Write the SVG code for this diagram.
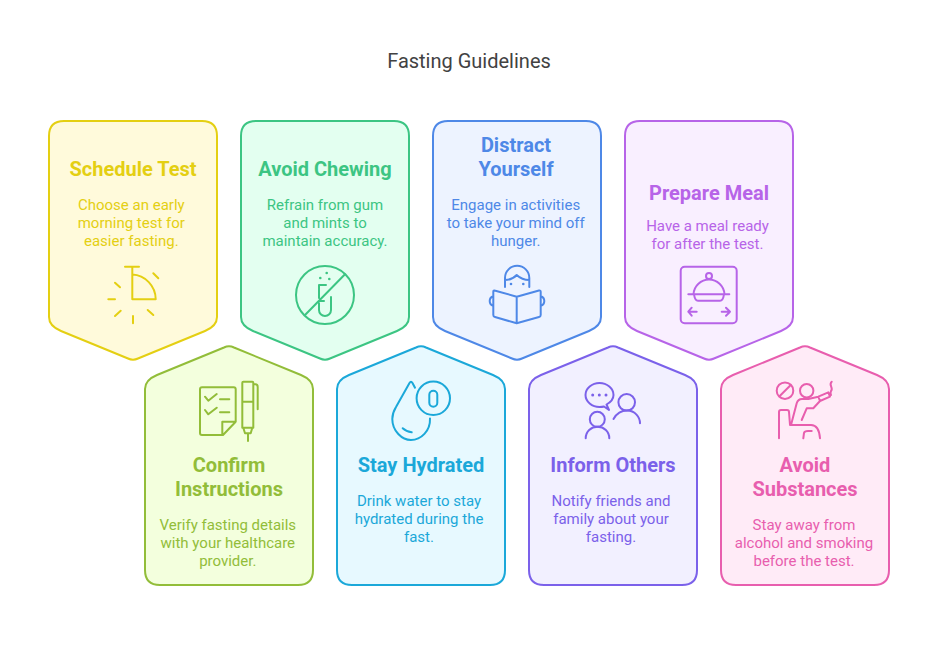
<svg xmlns="http://www.w3.org/2000/svg" width="938" height="658" viewBox="0 0 938 658">
<style>
text{font-family:Roboto,"Liberation Sans",sans-serif;text-anchor:middle}
.title{font-size:20px;fill:#424242}
.h{font-size:20px;font-weight:700}
.b{font-size:15px}
.card{stroke-width:2}
.i{fill:none;stroke-width:2;stroke-linecap:round;stroke-linejoin:round}
.y{fill:#e4cf12;stroke:#e4cf12}.y.card{fill:#fffadb}
.g{fill:#3cc583;stroke:#3cc583}.g.card{fill:#e3fff0}
.bl{fill:#4e88e7;stroke:#4e88e7}.bl.card{fill:#edf3ff}
.p{fill:#b764e8;stroke:#b764e8}.p.card{fill:#f9efff}
.l{fill:#92bd39;stroke:#92bd39}.l.card{fill:#f3ffdd}
.c{fill:#1ba8d9;stroke:#1ba8d9}.c.card{fill:#e7f9ff}
.v{fill:#7b61ea;stroke:#7b61ea}.v.card{fill:#f2f0ff}
.k{fill:#e85eae;stroke:#e85eae}.k.card{fill:#ffebf7}
text.y,text.g,text.bl,text.p,text.l,text.c,text.v,text.k{stroke:none}
.i.y,.i.g,.i.bl,.i.p,.i.l,.i.c,.i.v,.i.k{fill:none}
.d{stroke:none!important}
</style>
<defs>
<path id="down" d="M15 0H153Q168 0 168 15V196Q168 205 156 210L89 237.500Q84 240 79 237.500L12 210Q0 205 0 196V15Q0 0 15 0Z"/>
<path id="up" d="M79 1.500Q84 -1 89 1.500L156 29Q168 34 168 43V224Q168 239 153 239H15Q0 239 0 224V43Q0 34 12 29Z"/>
</defs>
<text class="title" x="469" y="67.500">Fasting Guidelines</text>
<g id="connectors"/>

<g id="schedule-test">
<use href="#down" x="49" y="121" class="card y"/>
<text class="h y" x="133" y="176">Schedule Test</text>
<text class="b y" x="131.300" y="210">Choose an early</text>
<text class="b y" x="131.300" y="228">morning test for</text>
<text class="b y" x="131.300" y="246">easier fasting.</text>
<path class="i y" d="M125 266.700H139M132.300 266.700V299.300H155.700C155.700 286 145 275 132.300 274.500M153.300 273.300L158.300 278.300M115 282.700L120 287.300M108.300 299.300H115M115 316L120.700 310.700M133 316V323.300M147.700 310L153.300 315"/>
</g>

<g id="avoid-chewing">
<use href="#down" x="241" y="121" class="card g"/>
<text class="h g" x="325" y="176">Avoid Chewing</text>
<text class="b g" x="325" y="210">Refrain from gum</text>
<text class="b g" x="325" y="228">and mints to</text>
<text class="b g" x="325" y="246">maintain accuracy.</text>
<circle class="i g" cx="325" cy="295" r="29"/>
<path class="i g" d="M345 274.300L305 315M319 298V285H326M319 301H324M319 303V310A6 6 0 0 0 331 310V297"/>
<circle class="g d" cx="320.300" cy="278" r="1.300"/><circle class="g d" cx="326.700" cy="273" r="1.300"/><circle class="g d" cx="329.300" cy="279" r="1.300"/>
</g>

<g id="distract-yourself">
<use href="#down" x="433" y="121" class="card bl"/>
<text class="h bl" x="516" y="152">Distract</text>
<text class="h bl" x="516" y="176">Yourself</text>
<text class="b bl" x="515.700" y="210">Engage in activities</text>
<text class="b bl" x="515.700" y="228">to take your mind off</text>
<text class="b bl" x="515.700" y="246">hunger.</text>
<path class="i bl" d="M505 287V278A12 12 0 0 1 529.300 278V287M505 280Q512 280 516.700 275Q522 280 529.300 280M516.700 296.700L494.500 290.500Q493.300 290 493.300 292V315Q493.300 316.700 495 317L516.700 323.300L539 317Q540.700 316.700 540.700 315V292Q540.700 290 539 290.500ZM516.700 296.700V323.300M493.300 296.200A5 5 0 0 0 493.300 305.800M540.700 296.200A5 5 0 0 1 540.700 305.800"/>
<circle class="bl d" cx="511" cy="284" r="1.300"/><circle class="bl d" cx="523.300" cy="284" r="1.300"/>
</g>

<g id="prepare-meal">
<use href="#down" x="625" y="121" class="card p"/>
<text class="h p" x="709" y="200">Prepare Meal</text>
<text class="b p" x="707.500" y="231">Have a meal ready</text>
<text class="b p" x="707.500" y="249">for after the test.</text>
<rect class="i p" x="680.700" y="266.700" width="56" height="56.600" rx="4"/>
<circle class="i p" cx="709" cy="276" r="3"/>
<path class="i p" d="M693.500 294.300C694 286 701 279.500 709 279.500C717 279.500 724 286 724.500 294.300M688.300 294.300H729.300M694 294.300Q695 300.700 698 300.700H720Q723 300.700 724 294.300M688.300 311.700H696.700M691.700 307.700L688.300 311.700L691.700 315.700M721.700 311.700H730M726 307.700L730 311.700L726 315.700"/>
</g>

<g id="confirm-instructions">
<use href="#up" x="145" y="346" class="card l"/>
<text class="h l" x="229" y="472">Confirm</text>
<text class="h l" x="229" y="496">Instructions</text>
<text class="b l" x="227.800" y="530">Verify fasting details</text>
<text class="b l" x="227.800" y="548">with your healthcare</text>
<text class="b l" x="227.800" y="566">provider.</text>
<path class="i l" d="M202 387.300H233.700Q235.700 387.300 235.700 389.300V421.700L223 435H202Q200 435 200 433V389.300Q200 387.300 202 387.300ZM235.700 421.700H222.300V435M205 396.700L208.300 400.700L216.700 394M220 399.300H229.300M205 410L208.300 414.300L216.700 407.700M220 412.300H229.300M243.300 381.700H252.300Q253.300 381.700 253.300 382.700V427.700H242.300V382.700Q242.300 381.700 243.300 381.700ZM242.300 401.700H253.300M253.300 384.300H255.500Q257.700 384.300 257.700 387V409.300M243.300 427.700L245 433.300H250.700L252.300 427.700M248 433.300V441"/>
</g>

<g id="stay-hydrated">
<use href="#up" x="337" y="346" class="card c"/>
<text class="h c" x="421" y="472">Stay Hydrated</text>
<text class="b c" x="419" y="506">Drink water to stay</text>
<text class="b c" x="419" y="524">hydrated during the</text>
<text class="b c" x="419" y="542">fast.</text>
<circle class="i c" cx="433.300" cy="398.300" r="16.700"/>
<rect class="i c" x="429.300" y="390.700" width="8" height="16" rx="4"/>
<path class="i c" d="M415 387.700L412.500 383Q411 380.500 409.500 383L396 407C393 412 392.300 415 392.300 419C392.300 431 402 440 411 440C421 440 430.500 431 430 418.500M402.700 428.300Q406 431.500 411.700 432.300"/>
</g>

<g id="inform-others">
<use href="#up" x="529" y="346" class="card v"/>
<text class="h v" x="613" y="472">Inform Others</text>
<text class="b v" x="611" y="506">Notify friends and</text>
<text class="b v" x="611" y="524">family about your</text>
<text class="b v" x="611" y="542">fasting.</text>
<path class="i v" d="M609 410L606.500 404.500C611 402 613.500 399 613.500 395C613.500 388.500 607 383 599.500 383C592 383 585.500 388.500 585.500 395C585.500 401.500 592 407 599.500 407C601.500 407 603 406.800 604 406.500Z"/>
<circle class="v d" cx="592.700" cy="395" r="1.500"/><circle class="v d" cx="599.300" cy="395" r="1.500"/><circle class="v d" cx="606" cy="395" r="1.500"/>
<circle class="i v" cx="626.700" cy="402.300" r="8.300"/>
<path class="i v" d="M613.500 419C617 413 622 410.600 627 410.600C635 410.600 640 417 640 423.300"/>
<circle class="i v" cx="597.300" cy="419.300" r="7.500"/>
<path class="i v" d="M585.700 438.300C585.700 431.500 591 426.800 597.500 426.800C604 426.800 609.300 431.500 609.300 438.300"/>
</g>

<g id="avoid-substances">
<use href="#up" x="721" y="346" class="card k"/>
<text class="h k" x="805" y="472">Avoid</text>
<text class="h k" x="805" y="496">Substances</text>
<text class="b k" x="804" y="530">Stay away from</text>
<text class="b k" x="804" y="548">alcohol and smoking</text>
<text class="b k" x="804" y="566">before the test.</text>
<circle class="i k" cx="785" cy="390.700" r="8.300"/>
<circle class="i k" cx="806.700" cy="390.700" r="6.700"/>
<path class="i k" d="M779 438.300V412Q779 410 781 410H787Q789 410 789 412L790 425H811Q819 425 820 438.300M780 395.700L790 385.700M791 425L796.700 403.300Q798 399 802 399H808.300L818.300 396.700L828.300 392.300L830 396.700L820 401L813.300 408.300H806.700L801.700 420M818.300 396.700L820 401M803.300 438.300L804 433Q804.500 431 808 431H811.700M831.700 381.700C828 385 834 388 831 391Q830 393 831 395"/>
</g>
</svg>
